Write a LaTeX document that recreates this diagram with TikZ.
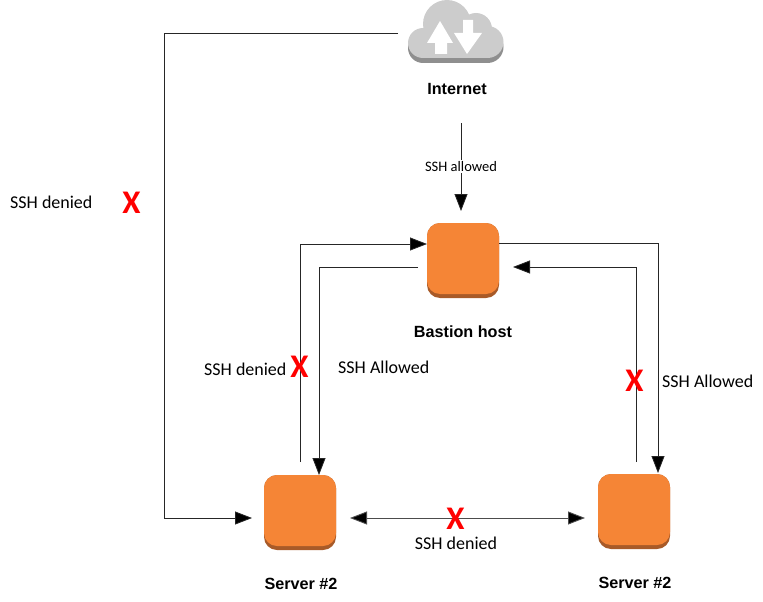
\documentclass[tikz,border=0pt]{standalone}
\usepackage{fontspec}
\setmainfont{Carlito}
\newfontfamily\headfont{Liberation Sans}
\usetikzlibrary{arrows.meta,calc}
\definecolor{orangebox}{HTML}{F58536}
\definecolor{orangeedge}{HTML}{A85A28}
\definecolor{cloudgray}{HTML}{CCCCCC}
\definecolor{cloudedge}{HTML}{8F8F8F}
\tikzset{
  link/.style={draw=black!85,line width=0.8pt,-{Triangle[length=17pt,width=13pt,fill=black]}},
  biglink/.style={draw=black!70,line width=0.9pt,{Triangle[length=17pt,width=13pt,fill=black]}-{Triangle[length=17pt,width=13pt,fill=black]}},
  hostbox/.style={minimum width=72pt,minimum height=71pt,inner sep=0pt,rounded corners=13pt,fill=orangebox},
  hostshadow/.style={minimum width=72pt,minimum height=75pt,inner sep=0pt,rounded corners=13pt,fill=orangeedge},
  headlabel/.style={font=\headfont\fontsize{16.2}{18}\selectfont\bfseries,inner sep=0pt},
  edgetext/.style={font=\fontsize{18}{20}\selectfont,inner sep=0pt,text=black},
  smalltext/.style={font=\fontsize{14.5}{16}\selectfont,inner sep=1.5pt,fill=white,text=black},
  denymark/.style={font=\fontsize{33}{34}\selectfont\bfseries,text=red,inner sep=0pt},
}
\begin{document}
\begin{tikzpicture}[x=1pt,y=-1pt]
\useasboundingbox (0,0) rectangle (763,602);

% cloud
\begin{scope}[shift={(0,5)}]
  \fill[cloudedge] (423,43) circle (15) (487.5,42) circle (16);
  \fill[cloudedge] (423,40) rectangle (488,58);
\end{scope}
\fill[cloudgray] (423,43) circle (15) (447,24) circle (24) (476,29) circle (16) (487.5,42) circle (16);
\fill[cloudgray] (423,30) rectangle (488,58);
\fill[white] (440,21) -- (453,43) -- (447,43) -- (447,54) -- (435,54) -- (435,43) -- (427,43) -- cycle;
\fill[white] (463,20) -- (473,20) -- (473,33) -- (482,33) -- (467,54) -- (454,33) -- (463,33) -- cycle;
\coordinate (cloudout) at (398,33);
\node[headlabel] (internet) at (457,89) {Internet};

% hosts
\node[hostshadow] (bastionS) at (463,260.5) {};
\node[hostbox] (bastion) at (463,258.5) {};
\node[headlabel] (bastionL) at (463,332) {Bastion host};
\node[hostshadow] (leftS) at (300,512.5) {};
\node[hostbox] (left) at (300,510.5) {};
\node[headlabel] (leftL) at (301,584) {Server \#2};
\node[hostshadow] (rightS) at (634,511.5) {};
\node[hostbox] (right) at (634,509.5) {};
\node[headlabel] (rightL) at (635,583) {Server \#2};

% free ends
\coordinate (inetdown) at (461,123);
\coordinate (bastiontop) at (461,211);
\coordinate (leftup) at (300,462);
\coordinate (bastionin) at (427,244);
\coordinate (bastionout) at (418,267);
\coordinate (lefttop) at (319,475);
\coordinate (bastionoutR) at (499,243);
\coordinate (righttop) at (658,473);
\coordinate (rightup) at (636,462);
\coordinate (bastioninR) at (513,267);
\coordinate (leftin) at (252,518);
\coordinate (bl) at (350,518);
\coordinate (br) at (585,518);

% connectors
\draw[link] (cloudout) -- (164,33) -- (164,518) -- (leftin);
\draw[link] (inetdown) -- (bastiontop) node[pos=0.49,smalltext] (allowed) {SSH allowed};
\draw[link] (leftup) -- (300,244) -- (bastionin);
\draw[link] (bastionout) -- (319,267) -- (lefttop);
\draw[link] (bastionoutR) -- (658,243) -- (righttop);
\draw[link] (rightup) -- (636,267) -- (bastioninR);
\draw[biglink] (bl) -- (br);

% labels
\node[edgetext,anchor=west] (d1) at (10,202.5) {SSH denied};
\node[edgetext,anchor=west] (d2) at (204,369.5) {SSH denied};
\node[edgetext,anchor=west] (a1) at (338,367.5) {SSH Allowed};
\node[edgetext,anchor=west] (a2) at (662,381.5) {SSH Allowed};
\node[edgetext] (d3) at (456,543.5) {SSH denied};

\node[denymark] (x1) at (131.5,203) {X};
\node[denymark] (x2) at (299.5,367) {X};
\node[denymark] (x3) at (634.5,381) {X};
\node[denymark] (x4) at (455.5,518.5) {X};
\end{tikzpicture}
\end{document}
